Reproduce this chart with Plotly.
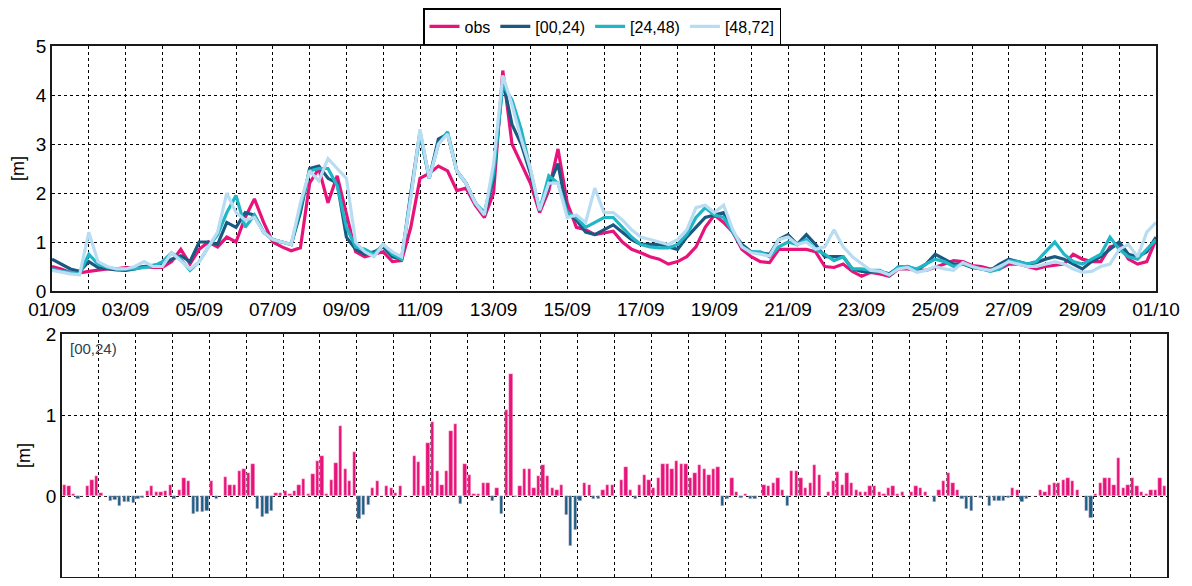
import numpy as np
import pandas as pd
import plotly.graph_objects as go

# ---------------- data (6-hourly series, 01/09 00h .. 01/10 00h) ----------------
obs = [
    0.5, 0.45, 0.38, 0.37, 0.4, 0.42, 0.45, 0.45,
    0.48, 0.48, 0.5, 0.48, 0.48, 0.6, 0.85, 0.55,
    0.85, 1.0, 0.9, 1.1, 1.0, 1.5, 1.88, 1.4,
    1.0, 0.9, 0.82, 0.88, 2.2, 2.5, 1.8, 2.35,
    1.6, 0.8, 0.7, 0.75, 0.8, 0.6, 0.62, 1.3,
    2.3, 2.4, 2.55, 2.45, 2.05, 2.1, 1.75, 1.5,
    2.0, 4.5, 3.0, 2.6, 2.2, 1.6, 2.05, 2.9,
    1.8, 1.3, 1.25, 1.15, 1.18, 1.22, 1.0, 0.85,
    0.78, 0.7, 0.65, 0.55, 0.6, 0.7, 0.9, 1.3,
    1.55, 1.4, 1.2, 0.85, 0.7, 0.6, 0.58, 0.85,
    0.85, 0.85, 0.85, 0.8, 0.5, 0.48, 0.55, 0.4,
    0.3, 0.38, 0.35, 0.3, 0.45, 0.45, 0.42, 0.42,
    0.48, 0.55, 0.62, 0.6, 0.52, 0.5, 0.45, 0.45,
    0.55, 0.55, 0.5, 0.45, 0.5, 0.52, 0.55, 0.75,
    0.65, 0.6, 0.6, 0.9, 0.95, 0.65, 0.55, 0.6,
    1.05,
]
fc_00_24 = [
    0.65, 0.55, 0.45, 0.4, 0.6, 0.48, 0.45, 0.43,
    0.42, 0.45, 0.5, 0.52, 0.55, 0.65, 0.72, 0.6,
    1.0, 1.0, 0.95, 1.4, 1.3, 1.6, 1.55, 1.2,
    1.05, 1.0, 0.95, 1.6, 2.5, 2.55, 2.3, 2.2,
    1.1, 0.85, 0.75, 0.8, 0.9, 0.7, 0.65, 2.0,
    3.25, 2.3, 3.1, 3.2, 2.45, 2.2, 1.8, 1.55,
    2.3, 4.3, 3.4, 3.0, 2.4, 1.65, 2.15, 2.6,
    1.6, 1.45, 1.2, 1.15, 1.25, 1.35, 1.2, 1.05,
    0.95, 0.95, 0.95, 0.9, 0.85, 1.1, 1.3, 1.5,
    1.55, 1.6, 1.2, 0.95, 0.8, 0.78, 0.75, 1.05,
    1.15, 0.95, 1.15, 0.95, 0.7, 0.7, 0.7, 0.45,
    0.4, 0.4, 0.4, 0.35, 0.48, 0.5, 0.42, 0.55,
    0.75, 0.65, 0.55, 0.55, 0.48, 0.45, 0.42, 0.55,
    0.65, 0.6, 0.55, 0.58, 0.65, 0.7, 0.65, 0.55,
    0.45, 0.6, 0.7, 0.85, 1.0, 0.75, 0.7, 0.8,
    1.1,
]
fc_24_48 = [
    0.45, 0.4, 0.38, 0.35, 0.75, 0.55, 0.48, 0.45,
    0.45, 0.45, 0.48, 0.5, 0.6, 0.78, 0.65, 0.42,
    0.6, 0.9, 1.15, 1.6, 1.95, 1.3, 1.55, 1.2,
    1.05, 1.0, 0.95, 1.7, 2.45, 2.5, 2.5, 2.15,
    1.3, 0.9, 0.85, 0.75, 0.95, 0.75, 0.65, 1.95,
    3.2, 2.3, 3.0, 3.25, 2.45, 2.2, 1.8, 1.6,
    2.4, 4.2, 3.9, 3.3, 2.5, 1.65, 2.35, 2.2,
    1.6, 1.5, 1.3, 1.4, 1.5, 1.5, 1.3, 1.1,
    0.95, 0.9, 0.88, 0.88, 0.95, 1.15, 1.5, 1.7,
    1.55, 1.5, 1.2, 0.9, 0.8, 0.8, 0.7, 0.9,
    1.0, 0.95, 1.05, 0.85, 0.75, 0.62, 0.7, 0.45,
    0.45, 0.42, 0.42, 0.32, 0.5, 0.5, 0.45, 0.55,
    0.65, 0.6, 0.5, 0.55, 0.5, 0.45, 0.4, 0.45,
    0.62, 0.6, 0.55, 0.6, 0.8, 1.0, 0.75, 0.6,
    0.55, 0.65, 0.75, 1.1, 0.85, 0.7, 0.65, 0.85,
    1.05,
]
fc_48_72 = [
    0.42, 0.38, 0.35, 0.33, 1.2, 0.6, 0.5, 0.45,
    0.45, 0.5, 0.6, 0.5, 0.5, 0.78, 0.62, 0.45,
    0.6, 0.9, 1.2, 2.0, 1.6, 1.45, 1.5, 1.2,
    1.05, 1.0, 0.95, 1.8, 2.45, 2.25, 2.7, 2.5,
    2.3, 1.0, 0.8, 0.7, 0.95, 0.8, 0.7, 1.9,
    3.3, 2.3, 3.0, 3.2, 2.45, 2.2, 1.8, 1.55,
    2.6, 4.4, 3.8, 3.1, 2.5, 1.65, 2.2, 2.2,
    1.5, 1.55, 1.4, 2.1, 1.6, 1.6, 1.45, 1.25,
    1.1, 1.05, 1.0, 0.95, 1.05, 1.25, 1.7, 1.75,
    1.6, 1.75, 1.25, 0.9, 0.78, 0.75, 0.72, 1.05,
    1.1, 0.95, 1.0, 0.85, 0.9, 1.25, 0.9, 0.7,
    0.55, 0.42, 0.4, 0.33, 0.45, 0.48, 0.38, 0.42,
    0.5, 0.45, 0.42, 0.58, 0.5, 0.45, 0.42, 0.5,
    0.6, 0.55, 0.5, 0.5, 0.55, 0.6, 0.55, 0.45,
    0.38, 0.4, 0.5, 0.55, 0.85, 0.95, 0.7, 1.2,
    1.4,
]

# 3-hourly error bars for [00,24)
err_00_24 = [
    0.14, 0.12, 0.03, -0.04, 0.0, 0.12, 0.2, 0.25,
    0.04, 0.0, -0.06, -0.05, -0.12, -0.08, -0.07, -0.09,
    -0.04, -0.02, 0.06, 0.12, 0.05, 0.05, 0.06, 0.14,
    -0.04, 0.07, 0.22, 0.18, -0.22, -0.2, -0.2, -0.19,
    0.18, -0.04, 0.0, 0.23, 0.14, 0.14, 0.31, 0.33,
    0.29, 0.39, -0.16, -0.26, -0.22, -0.18, 0.04, 0.04,
    0.06, 0.02, 0.06, 0.14, 0.21, 0.02, 0.27, 0.43,
    0.5, 0.02, 0.2, 0.41, 0.87, 0.33, 0.18, 0.54,
    -0.28, -0.23, -0.11, 0.1, 0.18, 0.0, 0.12, 0.1,
    0.04, 0.12, 0.0, 0.0, 0.5, 0.42, 0.12, 0.66,
    0.91, 0.31, 0.14, 0.31, 0.8, 0.89, -0.1, 0.4,
    0.26, 0.03, 0.03, 0.16, 0.16, -0.06, 0.1, -0.22,
    1.06, 1.51, -0.01, 0.12, 0.33, 0.33, 0.1, 0.25,
    0.38, 0.25, 0.1, 0.07, 0.14, -0.23, -0.62, -0.42,
    -0.06, 0.16, 0.14, -0.04, -0.04, 0.07, 0.14, 0.14,
    0.0, 0.2, 0.36, 0.07, -0.04, 0.14, 0.26, 0.2,
    0.1, 0.22, 0.4, 0.4, 0.33, 0.43, 0.4, 0.4,
    0.22, 0.28, 0.38, 0.33, 0.26, 0.33, 0.36, -0.12,
    -0.04, 0.22, 0.05, -0.02, 0.03, -0.04, -0.04, 0.0,
    0.14, 0.12, 0.16, 0.22, 0.08, -0.12, 0.31, 0.31,
    0.22, 0.1, 0.16, 0.38, 0.26, 0.0, 0.05, 0.18,
    0.3, 0.14, 0.28, 0.16, 0.08, 0.05, 0.05, 0.12,
    0.12, 0.05, 0.03, 0.1, 0.12, 0.03, 0.05, 0.0,
    0.05, 0.12, 0.1, 0.05, 0.0, -0.08, 0.08, 0.18,
    0.28, 0.16, 0.07, -0.04, -0.16, -0.19, 0.0, -0.02,
    0.0, -0.12, -0.06, -0.06, -0.06, -0.03, 0.1, 0.07,
    -0.08, -0.04, 0.0, 0.0, 0.07, 0.05, 0.14, 0.16,
    0.16, 0.2, 0.22, 0.18, 0.08, 0.0, -0.19, -0.27,
    0.03, 0.16, 0.22, 0.22, 0.14, 0.47, 0.1, 0.14,
    0.22, 0.12, 0.05, 0.03, 0.07, 0.07, 0.22, 0.12,
]

series_names = ["obs", "[00,24)", "[24,48)", "[48,72]"]
series_colors = ["#e8137a", "#1a5a82", "#1fb6c6", "#b8ddf3"]
bar_pos_color = "#e8137a"
bar_neg_color = "#1b5e86"

start = pd.Timestamp("2014-09-01")
end = pd.Timestamp("2014-10-01")
t6 = pd.date_range(start, periods=len(obs), freq="6h")
t3 = pd.date_range(start + pd.Timedelta(hours=1.5), periods=len(err_00_24), freq="3h")
days = pd.date_range(start, end, freq="D")
tick_text = [d.strftime("%d/%m") if i % 2 == 0 else "" for i, d in enumerate(days)]

# page body has an 8px margin, so the figure is 16px smaller than the window
W, H = 1176, 570
OFF = 8
FONT = "Liberation Sans, Arial, sans-serif"


def px_x(p):
    return (p - OFF) / W


def px_y(p):
    return 1 - (p - OFF) / H


fig = go.Figure()
for name, vals, col in zip(series_names, [obs, fc_00_24, fc_24_48, fc_48_72], series_colors):
    fig.add_trace(go.Scatter(x=t6, y=vals, mode="lines", name=name,
                             line=dict(color=col, width=3.2), xaxis="x", yaxis="y"))

err = np.array(err_00_24)
fig.add_trace(go.Bar(x=t3, y=err, xaxis="x2", yaxis="y2", showlegend=False,
                     marker=dict(color=np.where(err >= 0, bar_pos_color, bar_neg_color),
                                 line=dict(color="rgba(255,220,235,0.9)", width=0.5)),
                     width=3 * 3600 * 1000 * 0.72))

grid = dict(showgrid=True, gridcolor="black", griddash="dot", gridwidth=1)
frame = dict(showline=True, linecolor="#1a1a1a", linewidth=1.8, mirror=True,
             zeroline=False, ticks="", automargin=False)

fig.update_layout(
    width=W, height=H, margin=dict(l=0, r=0, t=0, b=0, autoexpand=False),
    paper_bgcolor="white", plot_bgcolor="white",
    font=dict(family=FONT, color="black", size=19),
    xaxis=dict(domain=[px_x(52), px_x(1156)], range=[start, end], type="date",
               tickvals=days, ticktext=tick_text, tickfont=dict(size=19),
               anchor="y", **grid, **frame),
    yaxis=dict(domain=[px_y(291), px_y(46)], range=[0, 5], dtick=1,
               title=dict(text="[m]", font=dict(size=18), standoff=8),
               tickfont=dict(size=19), anchor="x", **grid, **frame),
    xaxis2=dict(domain=[px_x(62), px_x(1167)], range=[start, end], type="date",
                tickvals=days, showticklabels=False, anchor="y2", **grid, **frame),
    yaxis2=dict(domain=[px_y(577), px_y(334)], range=[-1, 2], dtick=1,
                title=dict(text="[m]", font=dict(size=18), standoff=10),
                tickfont=dict(size=19), anchor="x2", **grid, **frame),
    legend=dict(orientation="h", x=px_x(602), y=px_y(8), xanchor="center", yanchor="top",
                bgcolor="white", bordercolor="black", borderwidth=1.5,
                font=dict(size=16), itemwidth=30, tracegroupgap=0),
    bargap=0,
    annotations=[dict(text="[00,24)", xref="paper", yref="paper",
                      x=px_x(68), y=px_y(338), xanchor="left", yanchor="top",
                      showarrow=False, font=dict(size=15, color="#2b3f55"))],
)

fig.write_html("out.html")
